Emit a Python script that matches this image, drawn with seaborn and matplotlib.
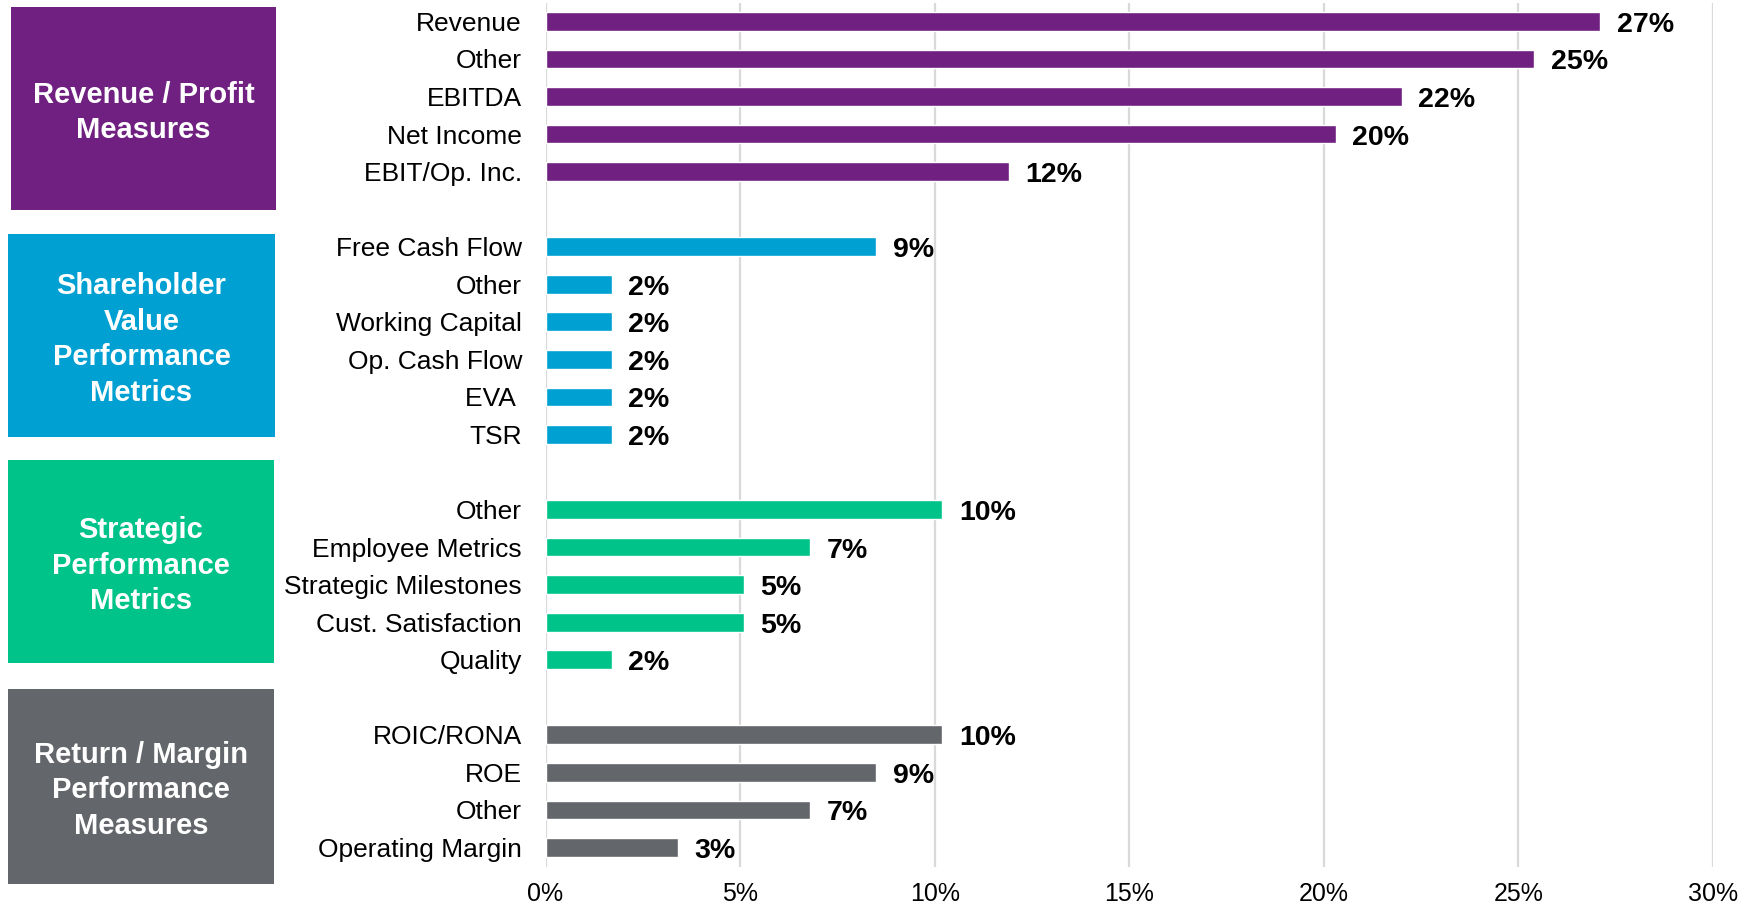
import matplotlib
matplotlib.use("Agg")
import matplotlib.pyplot as plt
import seaborn as sns
import pandas as pd
from matplotlib.patches import Rectangle

# ---------------- data ----------------
group_names = ["Revenue / Profit\nMeasures",
               "Shareholder\nValue\nPerformance\nMetrics",
               "Strategic\nPerformance\nMetrics",
               "Return / Margin\nPerformance\nMeasures"]
group_colors = ["#6F2080", "#00A0D2", "#00C389", "#63666A"]

revenue_labels = ["Revenue", "Other", "EBITDA", "Net Income", "EBIT/Op. Inc."]
revenue_values = [27.1, 25.4, 22.0, 20.3, 11.9]
revenue_text = ["27%", "25%", "22%", "20%", "12%"]

shareholder_labels = ["Free Cash Flow", "Other", "Working Capital", "Op. Cash Flow", "EVA ", "TSR"]
shareholder_values = [8.5, 1.7, 1.7, 1.7, 1.7, 1.7]
shareholder_text = ["9%", "2%", "2%", "2%", "2%", "2%"]

strategic_labels = ["Other", "Employee Metrics", "Strategic Milestones", "Cust. Satisfaction", "Quality"]
strategic_values = [10.2, 6.8, 5.1, 5.1, 1.7]
strategic_text = ["10%", "7%", "5%", "5%", "2%"]

return_labels = ["ROIC/RONA", "ROE", "Other", "Operating Margin"]
return_values = [10.2, 8.5, 6.8, 3.4]
return_text = ["10%", "9%", "7%", "3%"]

x_ticks = [0, 5, 10, 15, 20, 25, 30]
x_tick_labels = ["0%", "5%", "10%", "15%", "20%", "25%", "30%"]

# ---------------- build table ----------------
groups = [
    (group_names[0], revenue_labels, revenue_values, revenue_text),
    (group_names[1], shareholder_labels, shareholder_values, shareholder_text),
    (group_names[2], strategic_labels, strategic_values, strategic_text),
    (group_names[3], return_labels, return_values, return_text),
]
rows = []
order = []
tick_text = []
for gi, (gname, labs, vals, txts) in enumerate(groups):
    if gi > 0:
        order.append(f"gap{gi}")
        tick_text.append("")
    for i, (l, v, t) in enumerate(zip(labs, vals, txts)):
        key = f"g{gi}_{i}"
        rows.append(dict(key=key, label=l, value=v, text=t, group=gname))
        order.append(key)
        tick_text.append(l)
df = pd.DataFrame(rows)

# ---------------- figure ----------------
sns.set_theme(style="white")
plt.rcParams["font.family"] = ["Liberation Sans", "DejaVu Sans"]

W, H = 1751, 908
fig = plt.figure(figsize=(W / 100, H / 100), dpi=100)
ax = fig.add_axes([545.5 / W, 1 - 867 / H, (1713 - 545.5) / W, (867 - 3) / H])

sns.barplot(data=df, x="value", y="key", order=order, hue="group",
            hue_order=group_names, palette=dict(zip(group_names, group_colors)),
            dodge=False, width=0.5, saturation=1, legend=False, ax=ax)

ax.set_xlim(0, 30)
ax.set_ylim(len(order) - 1 + 0.52, -0.49)
ax.set_xticks(x_ticks)
ax.set_xticklabels(x_tick_labels, fontsize=18, color="#000000")
ax.set_yticks(range(len(order)))
ax.set_yticklabels(tick_text, fontsize=19, color="#000000")
ax.tick_params(axis="y", length=0, pad=17)
ax.tick_params(axis="x", length=0, pad=11)
ax.set_xlabel("")
ax.set_ylabel("")
for s in ax.spines.values():
    s.set_visible(False)
ax.grid(axis="x", color="#D9D9D9", linewidth=1.6)
ax.grid(axis="y", visible=False)
ax.set_axisbelow(True)

for _, r in df.iterrows():
    pos = order.index(r["key"])
    ax.annotate(r["text"], xy=(r["value"], pos), xytext=(12, -2.5),
                textcoords="offset points", ha="left", va="center",
                fontsize=20.5, fontweight="bold", color="#000000")

# ---------------- group boxes ----------------
boxes = [(11, 7, 276, 210), (8, 234, 275, 437), (8, 460, 274, 663), (8, 689, 274, 884)]
for (x0, y0, x1, y1), name, col in zip(boxes, group_names, group_colors):
    fig.add_artist(Rectangle((x0 / W, 1 - y1 / H), (x1 - x0) / W, (y1 - y0) / H,
                             transform=fig.transFigure, facecolor=col, edgecolor="none"))
    fig.text((x0 + x1) / 2 / W, 1 - ((y0 + y1) / 2 + 4) / H, name, ha="center", va="center",
             color="white", fontsize=21, fontweight="bold", linespacing=1.34)

fig.savefig("out.png", dpi=100)
